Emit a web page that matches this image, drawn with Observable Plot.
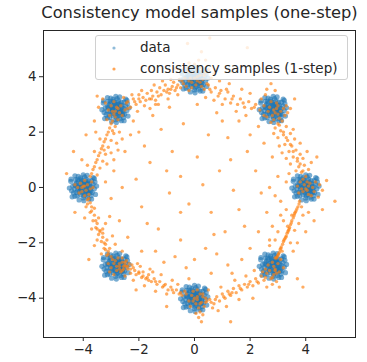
<!DOCTYPE html>
<html>
<head>
<meta charset="utf-8">
<script src="https://cdn.jsdelivr.net/npm/d3@7"></script>
<script src="https://cdn.jsdelivr.net/npm/@observablehq/plot@0.6"></script>
<style>
  body { margin: 0; background: #fff; font-family: "DejaVu Sans", sans-serif; }
  #wrap { position: relative; width: 367px; height: 362px; }
  #legend { position: absolute; left: 95px; top: 35px; width: 253px; height: 45px;
    background: rgba(255,255,255,0.8); border: 1px solid #d0d0d0; border-radius: 3px; box-sizing: border-box; }
  #legend .row { position: absolute; left: 44px; font-size: 13.5px; color: #262626; white-space: nowrap; line-height: 16px; }
  #legend svg { position: absolute; left: 0; top: 0; }
</style>
</head>
<body>
<div id="wrap"></div>
<script>
const title = "Consistency model samples (one-step)";
const seriesNames = ["data", "consistency samples (1-step)"];
const xTicks = [-4, -2, 0, 2, 4];
const yTicks = [-4, -2, 0, 2, 4];

// data: 8 gaussian modes on a circle (centres)
const dataCenters = [[4,0],[2.83,2.83],[0,3.9],[-2.83,2.83],[-4,0],[-2.83,-2.83],[0,-4],[2.83,-2.83]];
// hand-estimated spread of the points in a mode
const dataOffsets = [[0,0],[0.1,0.05],[-0.08,0.12],[0.15,-0.1],[-0.12,-0.06],[0.05,-0.18],[-0.2,0.02],[0.22,0.14],[-0.05,0.25],[0.18,-0.22],[-0.25,-0.18],[0.3,0.02],[-0.3,0.1],[0.02,-0.3],[0.1,0.3],[-0.18,0.22],[0.25,-0.05],[-0.1,-0.25],[0.32,-0.18],[-0.32,-0.05],[0.08,0.18],[-0.15,0.08],[0.12,-0.02],[-0.02,0.1],[0.2,0.25],[-0.22,-0.3],[0.35,0.12],[-0.38,0.05],[0.0,-0.38],[0.05,0.38],[-0.28,0.28],[0.28,-0.3],[0.4,-0.05],[-0.1,0.35],[0.15,-0.35],[-0.35,-0.2],[0.22,0.05],[-0.06,-0.12],[0.06,0.06],[-0.14,-0.16],[0.16,0.12],[-0.24,0.16],[0.3,0.25],[-0.3,-0.32],[0.1,-0.12],[-0.04,0.2],[0.42,0.2],[-0.42,-0.12],[0.2,-0.42],[-0.18,0.4],[0.05,-0.08],[-0.1,-0.02],[0.12,0.2],[-0.2,-0.1],[0.18,-0.05],[-0.02,-0.2],[0.26,-0.14],[-0.26,0.06],[0.08,-0.26],[-0.08,0.28],[0.44,-0.25],[-0.45,0.22],[0.36,0.36],[-0.4,-0.34],[0.0,0.46],[0.02,-0.48],[0.48,0.05],[-0.5,-0.02],[0.3,-0.42],[-0.3,0.42],[0.14,0.44],[-0.15,-0.45],[0.4,0.32],[-0.44,0.3],[0.24,-0.2],[-0.2,0.28],[0.1,0.14],[-0.12,0.0],[0.0,0.15],[0.18,-0.14]];

// consistency samples, read region by region
const samplesTopLeftEdge = [[-2.45,3.05],[-2.3,2.9],[-2.2,3.2],[-2.1,3.0],[-2.0,3.35],[-1.95,3.1],[-1.85,3.25],[-1.8,2.95],[-1.7,3.4],[-1.62,3.2],[-1.55,3.5],[-1.5,3.3],[-1.4,3.15],[-1.35,3.45],[-1.25,3.6],[-1.2,3.35],[-1.1,3.5],[-1.05,3.7],[-0.95,3.55],[-0.9,3.4],[-0.8,3.65],[-0.75,3.8],[-0.7,3.5],[-0.6,3.7],[-0.55,3.9],[-0.5,3.6],[-0.4,3.75],[-0.35,3.95],[-0.3,3.65],[-1.6,2.85],[-2.05,2.75],[-1.3,3.0],[-0.95,3.2],[-0.6,3.35],[-1.9,3.5],[-1.45,3.7],[-2.25,3.35],[-0.85,3.9],[-1.15,3.85],[-0.2,3.5],[-2.4,2.85],[-2.15,3.1],[-1.75,3.15],[-1.3,3.3],[-1.0,3.45],[-0.65,3.6],[-0.45,3.85],[-1.55,3.2],[-0.85,3.55],[-2.0,3.2]];
const samplesTopMode = [[-0.15,3.95],[0.1,3.85],[0.2,4.05],[-0.05,4.15],[0.3,3.9],[0.05,3.7],[-0.25,4.2],[0.15,4.3],[0.35,4.15],[0.0,4.45],[0.4,4.6],[0.25,4.9],[-0.2,4.5],[0.5,4.25],[0.6,3.95],[0.45,3.75],[-0.1,3.6],[0.15,4.6],[-0.35,4.35],[0.7,4.1],[-0.25,5.2],[1.9,5.05],[0.55,5.4],[0.1,4.0],[-0.1,3.8],[0.25,3.65],[0.0,3.95],[0.2,3.8],[-0.2,3.85],[0.35,4.05]];
const samplesTopRightEdge = [[0.35,3.55],[0.5,3.7],[0.6,3.45],[0.75,3.6],[0.85,3.3],[0.95,3.5],[1.1,3.2],[1.2,3.45],[1.3,3.05],[1.4,3.3],[1.55,3.0],[1.65,3.2],[1.8,2.9],[1.95,3.1],[2.05,2.85],[2.2,3.0],[2.35,2.8],[1.0,3.0],[1.5,2.75],[0.7,3.15],[2.0,3.4],[1.7,3.55],[1.25,3.75],[0.9,3.85],[2.4,3.2],[2.6,3.55],[2.75,3.75],[2.9,3.5],[2.55,3.35],[1.85,2.6],[0.4,3.25],[0.55,3.55],[0.9,3.4],[1.35,3.2],[1.75,3.05],[2.15,2.9],[1.15,3.55]];
const samplesTopRightMode = [[2.7,2.9],[2.9,2.7],[3.0,2.95],[2.8,2.6],[3.1,2.75],[2.65,2.75],[3.05,2.5],[2.95,3.05],[3.2,2.85],[2.75,3.1],[3.25,2.6],[2.85,2.45],[3.35,2.7],[3.3,2.95],[2.6,2.55],[3.45,2.85],[2.5,2.95],[2.85,2.8],[3.0,2.65],[2.95,2.85]];
const samplesUpperRightEdge = [[3.0,2.3],[3.15,2.4],[2.9,2.15],[3.1,2.05],[3.3,2.2],[3.2,1.9],[3.0,1.8],[3.35,1.7],[3.45,1.95],[3.25,1.55],[3.5,1.5],[3.6,1.75],[3.4,1.3],[3.65,1.35],[3.55,1.1],[3.8,1.2],[3.7,0.95],[3.9,1.05],[3.75,0.75],[3.95,0.8],[3.85,0.55],[4.1,0.65],[3.65,0.6],[3.05,1.5],[2.85,1.95],[3.55,2.1],[3.8,1.6],[4.05,1.3],[3.3,1.05],[2.75,2.35],[3.15,1.25],[4.2,0.9],[3.45,0.85],[3.05,2.25],[3.2,2.0],[3.3,1.8],[3.45,1.55],[3.55,1.3],[3.7,1.05],[3.8,0.85],[3.9,0.6]];
const samplesRightMode = [[3.95,0.1],[4.05,-0.1],[4.15,0.15],[3.85,-0.05],[4.1,-0.25],[3.9,0.3],[4.25,0.0],[3.8,0.2],[4.2,-0.3],[4.0,0.4],[4.35,0.2],[3.75,-0.2],[4.3,-0.15],[4.5,0.1],[4.6,-0.1],[4.45,-0.35],[5.05,-0.5],[4.75,0.25],[3.7,0.05],[4.0,-0.05],[4.1,0.05],[3.9,-0.15],[4.05,0.2]];
const samplesLowerRightEdge = [[3.78,-0.5],[3.72,-0.7],[3.65,-0.85],[3.6,-0.95],[3.55,-1.1],[3.5,-1.2],[3.45,-1.35],[3.42,-1.45],[3.38,-1.55],[3.33,-1.65],[3.3,-1.75],[3.25,-1.85],[3.2,-1.95],[3.17,-2.05],[3.12,-2.15],[3.08,-2.25],[3.05,-2.35],[3.0,-2.45],[2.95,-2.55],[3.35,-1.4],[3.5,-1.0],[3.15,-2.3],[3.2,-1.2],[3.0,-1.6],[3.6,-1.55],[3.75,-1.3],[2.9,-1.9],[3.45,-2.0],[3.9,-1.0],[3.85,-0.7],[3.1,-1.0],[2.8,-1.4],[3.55,-2.3],[4.0,-1.6],[2.7,-2.1],[3.3,-0.8],[4.1,-0.9],[3.7,-2.0],[3.76,-0.6],[3.68,-0.78],[3.58,-1.02],[3.48,-1.28],[3.4,-1.5],[3.28,-1.8],[3.22,-1.9],[3.1,-2.2],[3.02,-2.4],[2.97,-2.5],[3.62,-0.9],[3.36,-1.6]];
const samplesBottomRightMode = [[2.8,-2.7],[2.9,-2.95],[2.7,-3.0],[3.0,-2.75],[2.85,-3.15],[2.65,-2.8],[3.05,-3.05],[2.75,-3.3],[2.95,-3.4],[3.1,-2.6],[2.6,-3.1],[2.9,-2.55],[3.2,-2.9],[2.8,-3.5],[3.05,-3.6],[2.55,-2.95],[2.85,-2.85],[2.95,-3.1],[2.8,-3.25],[2.9,-3.0]];
const samplesBottomRightEdge = [[0.4,-4.15],[0.55,-4.05],[0.7,-4.2],[0.8,-3.95],[0.9,-4.1],[1.0,-3.85],[1.1,-4.0],[1.2,-3.75],[1.3,-3.9],[1.4,-3.65],[1.5,-3.8],[1.6,-3.55],[1.7,-3.7],[1.8,-3.5],[1.9,-3.6],[2.0,-3.4],[2.1,-3.55],[2.2,-3.3],[2.3,-3.45],[2.4,-3.2],[2.5,-3.35],[2.45,-3.05],[0.65,-4.35],[1.15,-4.3],[0.95,-3.6],[1.45,-3.35],[1.85,-3.2],[0.5,-3.7],[1.6,-4.05],[2.15,-3.0],[0.3,-3.85],[1.35,-3.1],[2.6,-3.6],[0.85,-4.45],[3.9,-3.6],[1.3,-4.85],[0.45,-4.1],[0.75,-4.05],[1.05,-3.95],[1.35,-3.8],[1.65,-3.65],[1.95,-3.5],[2.25,-3.4],[2.55,-3.25],[0.6,-4.15],[1.25,-3.85]];
const samplesBottomMode = [[-0.1,-3.9],[0.1,-4.05],[0.2,-3.85],[-0.2,-4.1],[0.05,-4.2],[0.25,-4.15],[-0.05,-3.75],[0.15,-4.35],[0.3,-3.95],[-0.3,-3.85],[0.35,-4.3],[0.1,-3.7],[0.2,-4.5],[0.15,-4.7],[0.25,-4.85],[0.05,-4.55],[-0.15,-4.3],[0.4,-4.0],[0.3,-4.6],[0.0,-4.0],[0.1,-3.95],[-0.05,-4.1],[0.2,-4.2]];
const samplesBottomLeftEdge = [[-2.4,-2.95],[-2.3,-3.1],[-2.2,-2.9],[-2.1,-3.15],[-2.0,-3.05],[-1.9,-3.25],[-1.85,-3.05],[-1.75,-3.3],[-1.65,-3.15],[-1.55,-3.4],[-1.45,-3.3],[-1.35,-3.5],[-1.25,-3.4],[-1.15,-3.6],[-1.05,-3.5],[-0.95,-3.7],[-0.85,-3.6],[-0.75,-3.8],[-0.65,-3.7],[-0.55,-3.85],[-0.45,-3.9],[-0.35,-3.75],[-2.5,-3.2],[-2.05,-2.75],[-1.6,-2.95],[-1.2,-3.15],[-0.8,-3.35],[-2.2,-3.35],[-1.8,-3.55],[-1.4,-3.75],[-1.0,-3.85],[-0.6,-3.5],[-2.35,-2.75],[-1.95,-2.85],[-2.6,-3.0],[-0.2,-3.3],[-1.5,-3.05],[-2.3,-2.95],[-2.0,-3.1],[-1.7,-3.25],[-1.4,-3.4],[-1.1,-3.55],[-0.8,-3.7],[-0.5,-3.8],[-2.15,-3.0],[-1.85,-3.2],[-2.45,-2.85],[-2.25,-2.8],[-1.65,-3.35]];
const samplesBottomLeftMode = [[-2.9,-2.75],[-2.7,-2.85],[-2.6,-2.7],[-2.8,-3.0],[-2.5,-2.8],[-3.0,-2.9],[-2.65,-3.05],[-2.95,-2.6],[-2.75,-2.55],[-2.55,-2.95],[-3.1,-2.75],[-2.85,-2.65],[-2.45,-2.65],[-2.7,-2.95],[-2.4,-2.85],[-3.05,-3.05],[-2.6,-2.55],[-2.9,-3.15],[-2.7,-2.75],[-2.55,-2.85],[-2.8,-2.85],[-2.5,-2.7]];
const samplesLowerLeftEdge = [[-3.8,-0.4],[-3.85,-0.6],[-3.7,-0.7],[-3.75,-0.9],[-3.6,-1.0],[-3.65,-1.2],[-3.5,-1.3],[-3.55,-1.45],[-3.4,-1.55],[-3.45,-1.7],[-3.3,-1.8],[-3.35,-1.95],[-3.2,-2.05],[-3.25,-2.2],[-3.1,-2.3],[-3.15,-2.45],[-3.0,-2.5],[-3.6,-0.75],[-3.45,-1.1],[-3.3,-1.5],[-3.15,-1.9],[-3.05,-2.2],[-3.9,-0.7],[-3.7,-1.5],[-3.5,-1.9],[-3.35,-2.4],[-3.2,-1.3],[-2.95,-1.75],[-3.6,-2.1],[-3.95,-1.1],[-2.85,-2.05],[-3.05,-1.05],[-3.85,-0.45],[-3.7,-0.85],[-3.55,-1.2],[-3.4,-1.6],[-3.25,-2.0],[-3.1,-2.4],[-3.75,-0.55],[-3.5,-1.5],[-3.3,-1.65],[-3.2,-2.25]];
const samplesLeftMode = [[-4.0,0.05],[-3.9,-0.1],[-4.1,0.15],[-3.85,0.1],[-4.05,-0.15],[-3.95,0.25],[-3.75,-0.05],[-4.2,0.0],[-3.8,-0.25],[-4.15,-0.2],[-3.7,0.2],[-4.3,0.1],[-3.95,-0.3],[-3.65,0.0],[-3.95,0.05],[-4.05,0.0]];
const samplesUpperLeftEdge = [[-2.95,2.4],[-2.85,2.2],[-3.05,2.15],[-2.9,1.95],[-3.15,1.9],[-3.0,1.7],[-3.25,1.65],[-3.1,1.45],[-3.35,1.4],[-3.2,1.2],[-3.45,1.15],[-3.3,0.95],[-3.55,0.9],[-3.4,0.7],[-3.65,0.65],[-3.5,0.45],[-3.75,0.4],[-2.7,2.0],[-2.8,1.6],[-3.0,1.25],[-3.15,0.85],[-3.4,1.75],[-3.6,1.3],[-3.85,0.8],[-4.35,1.3],[-4.05,1.0],[-2.6,1.75],[-2.9,1.0],[-3.55,2.0],[-2.75,1.35],[-3.0,2.3],[-3.1,2.0],[-3.2,1.75],[-3.3,1.5],[-3.4,1.25],[-3.5,1.0],[-3.6,0.75],[-3.7,0.5],[-2.95,2.05],[-3.25,1.35]];
const samplesTopLeftMode = [[-2.8,2.9],[-2.95,2.75],[-2.7,2.7],[-2.85,2.55],[-3.0,2.95],[-2.65,2.95],[-2.9,3.1],[-2.75,2.45],[-3.1,2.8],[-2.6,2.6],[-3.05,2.6],[-2.5,2.8],[-3.2,3.05],[-3.3,3.2],[-2.4,3.1],[-3.15,2.45],[-2.55,3.25],[-3.45,2.9],[-2.85,2.75],[-2.75,2.85],[-2.9,2.65]];
const samplesInterior = [[-2.2,2.4],[-1.5,2.6],[-0.9,2.9],[0.1,3.0],[0.8,2.7],[1.6,2.4],[2.3,2.2],[2.5,1.6],[2.8,1.1],[3.0,0.4],[3.3,0.2],[3.1,-0.5],[2.6,-0.9],[2.9,-0.3],[2.3,-1.6],[2.0,-2.2],[1.2,-2.8],[0.6,-3.1],[-0.3,-2.9],[-1.1,-2.7],[-1.9,-2.3],[-2.4,-1.8],[-2.7,-1.2],[-3.0,-0.4],[-3.2,0.2],[-2.9,0.6],[-2.5,1.3],[-2.3,1.9],[-1.8,1.5],[-1.2,2.1],[-0.4,2.3],[0.5,1.9],[1.2,1.8],[1.9,1.3],[2.2,0.6],[2.4,-0.2],[1.6,-0.8],[1.1,-1.6],[0.4,-2.2],[-0.5,-1.9],[-1.3,-1.5],[-1.9,-0.7],[-2.1,0.3],[-1.6,0.9],[-0.8,1.3],[0.1,1.1],[0.9,0.6],[1.4,-0.1],[0.6,-0.9],[-0.2,-0.6],[-0.9,-0.2],[-0.5,0.4],[0.3,0.1],[-1.4,-2.3],[1.7,-2.6],[2.7,-1.9],[-2.6,-2.3],[-2.0,2.0],[1.0,2.4],[2.7,0.0],[-2.6,0.0],[0.0,-2.6],[-1.0,0.6],[1.3,1.0],[1.8,-1.4],[-1.7,-1.3],[0.8,-2.4],[-0.7,-2.5],[2.0,1.9],[-1.4,3.0],[-3.6,2.4],[-3.9,1.9],[4.4,1.1],[4.3,-1.2],[-4.3,-0.9],[-4.6,0.5],[3.6,3.2],[-3.5,3.3],[-0.7,4.3],[1.3,4.2],[2.1,-4.0],[-2.1,-3.7],[-1.0,-4.3],[3.7,-3.3],[-3.8,-2.6],[4.6,-0.8],[-0.5,-0.9],[0.7,-1.7],[2.5,2.6],[3.4,0.5]];

const dataPoints = dataCenters.flatMap(c => dataOffsets.map(o => [c[0] + o[0], c[1] + o[1]]));
const samplePoints = [].concat(samplesTopLeftEdge, samplesTopMode, samplesTopRightEdge, samplesTopRightMode,
  samplesUpperRightEdge, samplesRightMode, samplesLowerRightEdge, samplesBottomRightMode, samplesBottomRightEdge,
  samplesBottomMode, samplesBottomLeftEdge, samplesBottomLeftMode, samplesLowerLeftEdge, samplesLeftMode,
  samplesUpperLeftEdge, samplesTopLeftMode, samplesInterior);

const blue = "#1f77b4", orange = "#ff7f0e";

const chart = Plot.plot({
  width: 367,
  height: 362,
  marginLeft: 43,
  marginRight: 12,
  marginTop: 30,
  marginBottom: 25,
  style: { fontFamily: "DejaVu Sans", fontSize: "13.3px", color: "#262626", background: "#fff" },
  x: { domain: [-5.43, 5.79] },
  y: { domain: [-5.42, 5.67] },
  marks: [
    Plot.dot(dataPoints, { x: d => d[0], y: d => d[1], r: 2.6, fill: blue, fillOpacity: 0.6, stroke: "none" }),
    Plot.dot(samplePoints, { x: d => d[0], y: d => d[1], r: 1.7, fill: orange, fillOpacity: 0.65, stroke: "none" }),
    Plot.frame({ stroke: "#262626", strokeWidth: 1 }),
    Plot.axisX({ ticks: xTicks, tickSize: 4, tickPadding: 3, label: null, fontSize: 13.3 }),
    Plot.axisY({ ticks: yTicks, tickSize: 4, tickPadding: 3, label: null, fontSize: 13.3 }),
    Plot.text([title], { frameAnchor: "top", lineAnchor: "middle", dy: -18, fontSize: 16.3, fill: "#262626" })
  ]
});

const wrap = document.getElementById("wrap");
wrap.appendChild(chart);

const legend = document.createElement("div");
legend.id = "legend";
legend.innerHTML = `<svg width="253" height="45">
  <circle cx="18" cy="12" r="1.6" fill="${blue}" fill-opacity="0.5"></circle>
  <circle cx="18" cy="33" r="1.6" fill="${orange}" fill-opacity="0.7"></circle>
</svg>
<div class="row" style="top:3px">${seriesNames[0]}</div>
<div class="row" style="top:24px">${seriesNames[1]}</div>`;
wrap.appendChild(legend);
</script>
</body>
</html>
